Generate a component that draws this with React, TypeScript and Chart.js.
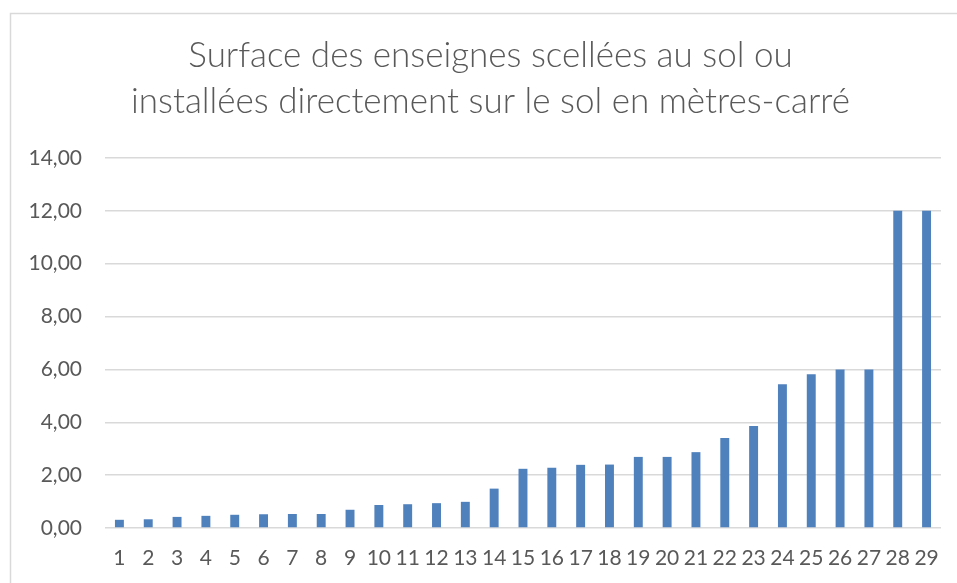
import React, { useEffect, useRef } from "react";
import { Chart, registerables } from "chart.js";

Chart.register(...registerables);

const categories: string[] = [
  "1", "2", "3", "4", "5", "6", "7", "8", "9", "10",
  "11", "12", "13", "14", "15", "16", "17", "18", "19", "20",
  "21", "22", "23", "24", "25", "26", "27", "28", "29",
];

const surfaces: number[] = [
  0.31, 0.33, 0.42, 0.46, 0.5, 0.52, 0.53, 0.53, 0.69, 0.87,
  0.9, 0.94, 0.99, 1.49, 2.24, 2.28, 2.39, 2.4, 2.69, 2.69,
  2.87, 3.41, 3.86, 5.44, 5.82, 6.0, 6.0, 12.0, 12.0,
];

const titleLines: string[] = [
  "Surface des enseignes scellées au sol ou",
  "installées directement sur le sol en mètres-carré",
];

const yMin = 0;
const yMax = 14;
const yStep = 2;

const FONT = "Lato, 'Open Sans', sans-serif";
const TEXT = "#595959";

const frame = {
  id: "frame",
  beforeDraw(chart: any) {
    const ctx = chart.ctx;
    ctx.save();
    ctx.fillStyle = "#ffffff";
    ctx.fillRect(0, 0, chart.width, chart.height);
    ctx.strokeStyle = "#d9d9d9";
    ctx.lineWidth = 1.5;
    ctx.strokeRect(10.5, 13.5, chart.width + 50, chart.height + 50);
    ctx.restore();
  },
  afterDraw(chart: any) {
    const ctx = chart.ctx;
    ctx.save();
    ctx.fillStyle = TEXT;
    ctx.font = `300 35px ${FONT}`;
    ctx.textAlign = "center";
    ctx.textBaseline = "middle";
    titleLines.forEach((line, i) => {
      ctx.fillText(line, 490.5, 56 + i * 46);
    });
    ctx.restore();
  },
};

export default function App() {
  const ref = useRef<HTMLCanvasElement | null>(null);

  useEffect(() => {
    if (!ref.current) return;
    const chart = new Chart(ref.current, {
      type: "bar",
      data: {
        labels: categories,
        datasets: [
          {
            data: surfaces,
            backgroundColor: "#4f81bd",
            borderWidth: 0,
            barPercentage: 0.31,
            categoryPercentage: 1,
          },
        ],
      },
      options: {
        animation: false,
        responsive: false,
        devicePixelRatio: 1,
        layout: { padding: { left: 10, right: 15, top: 158, bottom: 12 } },
        plugins: {
          legend: { display: false },
          tooltip: { enabled: false },
          title: { display: false },
        },
        scales: {
          x: {
            afterFit: (s: any) => {
              s.height = 43;
            },
            grid: { display: false, drawTicks: false },
            border: { display: false },
            ticks: {
              color: TEXT,
              font: { family: FONT, size: 21 },
              autoSkip: false,
              maxRotation: 0,
              padding: 18,
            },
          },
          y: {
            min: yMin,
            max: yMax,
            afterFit: (s: any) => {
              s.width = 95;
            },
            grid: { color: "#d9d9d9", lineWidth: 1.5, drawTicks: false },
            border: { display: false },
            ticks: {
              stepSize: yStep,
              color: TEXT,
              font: { family: FONT, size: 21 },
              padding: 23,
              callback: (v: any) => Number(v).toFixed(2).replace(".", ","),
            },
          },
        },
      },
      plugins: [frame],
    });
    return () => chart.destroy();
  }, []);

  return (
    <div style={{ position: "fixed", left: 0, top: 0, width: 957, height: 583, background: "#fff" }}>
      <canvas ref={ref} width={957} height={583} style={{ display: "block" }} />
    </div>
  );
}
